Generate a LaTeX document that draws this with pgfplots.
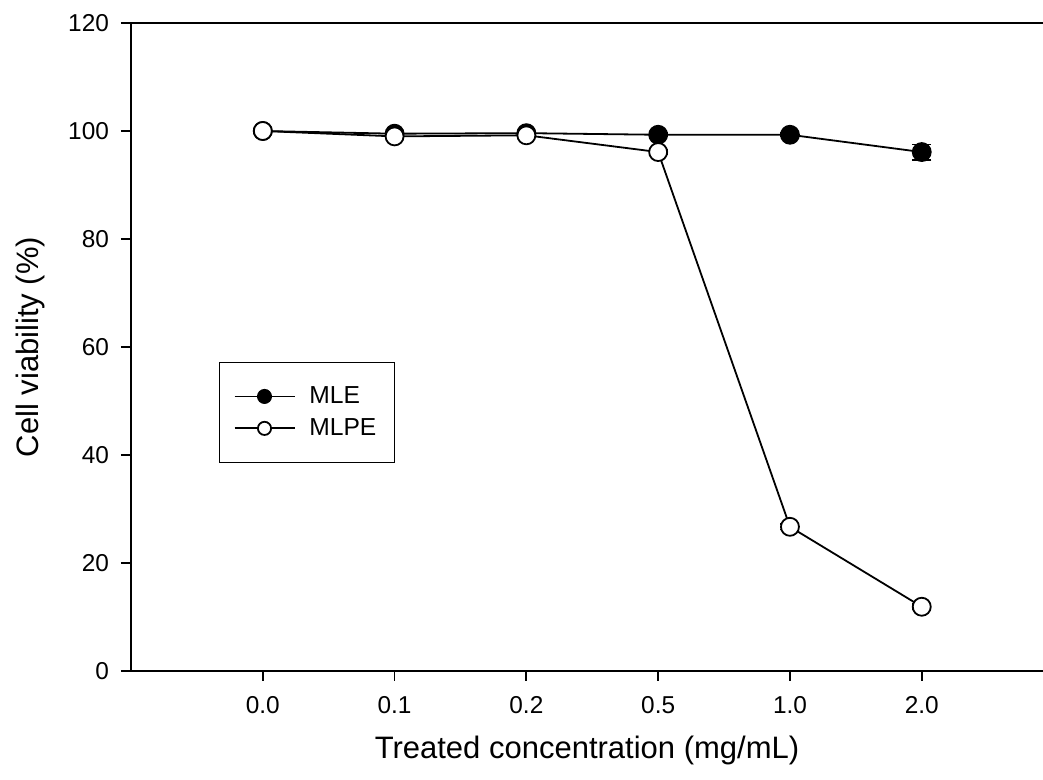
\documentclass[border=0pt]{standalone}
\usepackage{pgfplots}
\pgfplotsset{compat=1.18}
\usepackage{fontspec}
\setmainfont{Liberation Sans}

\begin{document}
\begin{tikzpicture}
\begin{axis}[
    name=main,
    scale only axis,
    width=456pt, height=324pt,
    xmin=-1, xmax=5.92,
    ymin=0, ymax=120,
    axis x line*=box, axis y line*=left,
    axis line style={line width=0.9pt},
    xtick={0,1,2,3,4,5},
    xticklabels={0.0,0.1,0.2,0.5,1.0,2.0},
    xtick pos=lower, ytick pos=left,
    ytick={0,20,40,60,80,100,120},
    tick align=outside,
    major tick length=5pt,
    tick style={line width=0.9pt, black},
    /pgf/number format/assume math mode=true,
    ticklabel style={font=\fontsize{12.2}{14}\selectfont},
    xticklabel style={yshift=-4pt},
    yticklabel style={xshift=-2.5pt},
    every axis x label/.style={at={(rel axis cs:0.5,-0.1219)}, anchor=center},
    every axis y label/.style={at={(rel axis cs:-0.1107,0.5)}, rotate=90, anchor=center},
    label style={font=\fontsize{15.5}{18}\selectfont},
    xlabel={Treated concentration (mg/mL)},
    ylabel={Cell viability (\%)},
    legend style={at={(rel axis cs:0.0965,0.477)}, anchor=north west,
        draw=black, line width=0.6pt, font=\fontsize{12.3}{15}\selectfont,
        inner xsep=7pt, inner ysep=10pt, row sep=2pt,
        /tikz/every odd column/.append style={column sep=5pt}},
    legend cell align=left,
    legend image code/.code={\draw[mark repeat=2,mark phase=2,#1,line width=0.9pt,mark size=3.3pt] plot coordinates {(0pt,0pt) (15pt,0pt) (30pt,0pt)};},
]
\addplot[black, line width=0.9pt, mark=*, mark size=4.5pt,
    mark options={fill=black},
    error bars/.cd, y dir=both, y explicit,
    error bar style={line width=0.9pt},
    error mark options={rotate=90, mark size=4.75pt, line width=0.9pt}]
coordinates {
    (0,100.0) +- (0,0.3)
    (1,99.5) +- (0,0.3)
    (2,99.6) +- (0,0.3)
    (3,99.3) +- (0,0.3)
    (4,99.3) +- (0,0.3)
    (5,96.1) +- (0,1.4)
};
\addlegendentry{MLE}
\addplot[black, line width=0.9pt, mark=*, mark size=4.5pt,
    mark options={fill=white},
    error bars/.cd, y dir=both, y explicit,
    error bar style={line width=0.9pt},
    error mark options={rotate=90, mark size=4.75pt, line width=0.9pt}]
coordinates {
    (0,100.0) +- (0,0.3)
    (1,99.0) +- (0,0.3)
    (2,99.2) +- (0,0.3)
    (3,96.1) +- (0,0.4)
    (4,26.7) +- (0,0.5)
    (5,11.9) +- (0,0.5)
};
\addlegendentry{MLPE}
\end{axis}
\pgfresetboundingbox
\path ([xshift=-65.5pt,yshift=-54.5pt]main.south west) rectangle ([yshift=11.5pt]main.north east);
\end{tikzpicture}
\end{document}
